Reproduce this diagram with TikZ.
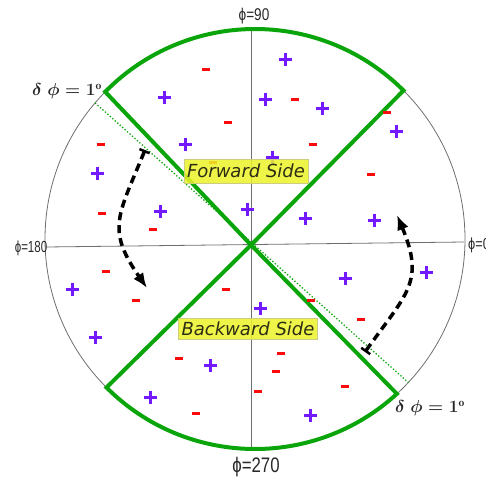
\documentclass[tikz,border=0pt]{standalone}
\usepackage{fontspec}
\usetikzlibrary{arrows.meta,calc}
\newfontfamily\labfont{Liberation Sans}
\newfontfamily\boxfont{DejaVu Sans}
\definecolor{sectgreen}{RGB}{10,165,10}
\definecolor{plusviolet}{RGB}{115,25,255}
\definecolor{minusred}{RGB}{250,10,10}
\definecolor{boxyellow}{RGB}{236,242,40}
\definecolor{boxedge}{RGB}{205,205,130}
\definecolor{axisgray}{RGB}{110,110,110}
\definecolor{boxtext}{RGB}{45,45,20}
\definecolor{labtext}{RGB}{40,40,40}
\begin{document}
\begin{tikzpicture}[x=1pt,y=-1pt,
  pls/.style={draw=plusviolet, line width=3pt},
  mns/.style={draw=minusred, line width=3pt},
  sector/.style={draw=sectgreen, line width=4pt, line join=miter},
  thinline/.style={draw=axisgray, line width=0.8pt},
  dasharr/.style={draw=black, line width=3.5pt, dash pattern=on 8pt off 5pt,
    {Bar[width=11pt,line width=2.5pt]}-{Latex[length=15pt,width=12pt]}},
  sidebox/.style={fill=boxyellow, fill opacity=0.85, text opacity=1, draw=boxedge,
    line width=0.8pt, text=boxtext, inner xsep=3pt, inner ysep=2pt,
    font=\boxfont\itshape\fontsize{18}{20}\selectfont},
  axlab/.style={text=labtext, inner sep=0pt},
  dlab/.style={text=labtext, inner sep=0pt, font=\fontsize{16.5}{18}\selectfont\boldmath},
  plus/.pic={\draw[pls] (-6.5,0) -- (6.5,0) (0,-6.5) -- (0,6.5);},
  minus/.pic={\draw[mns] (-4.2,0) -- (4.2,0);}
]
\useasboundingbox (0,0) rectangle (486,479);
\coordinate (C) at (255,239);
\coordinate (O) at (251,245);
% circle and axes
\draw[thinline] (C) circle[radius=210];
\coordinate (axT) at (251,31);
\coordinate (axB) at (251,447);
\coordinate (axL) at (46,247);
\coordinate (axR) at (464,242);
\draw[thinline] (axT) -- (axB);
\draw[thinline] (axL) -- (axR);
% sectors
\coordinate (UL) at ($(C)+(224.5:210)$);
\coordinate (LR) at ($(C)+(47.5:210)$);
\draw[sector] (O) -- (UL) arc[start angle=224.5, end angle=315, radius=210] -- cycle;
\draw[sector] (O) -- (LR) arc[start angle=47.5, end angle=135, radius=210] -- cycle;
% dotted line
\coordinate (D1) at ($(C)+(220.4:210)$);
\coordinate (D2) at ($(C)+(43.1:210)$);
\draw[sectgreen, line width=1.3pt, dotted] (D1) -- (D2);
% pluses
\foreach \p in {(285,59),(164,97),(265,99),(322,108),(185,144),(396,131),(272,157),
  (97,173),(160,211),(247,209),(305,218),(374,220),(345,278),(426,272),(72,289),
  (260,308),(95,337),(210,365),(150,397),(310,415)}
  \pic at \p {plus};
% minuses
\foreach \p in {(206,69),(228,122),(101,144),(213,162),(102,213),(153,229),(295,99),
  (313,144),(387,112),(371,174),(106,271),(136,300),(226,289),(179,358),(196,413),
  (311,300),(361,319),(281,353),(276,371),(258,391),(345,386)}
  \pic at \p {minus};
% dashed arrows
\coordinate (a1s) at (145,150);
\coordinate (a1e) at (147,288);
\draw[dasharr] (a1s) .. controls (118,216) and (106,229) .. (a1e);
\coordinate (a2s) at (365,352);
\coordinate (a2e) at (397,215);
\draw[dasharr] (a2s) .. controls (407,293) and (425,282) .. (a2e);
% side boxes
\node[sidebox, minimum height=24pt] (fwd) at (246,171) {Forward Side};
\node[sidebox, minimum height=21pt] (bwd) at (248,328.5) {Backward Side};
% axis labels
\node[axlab, font=\labfont\fontsize{17}{19}\selectfont] (l90) at (254,16) {\scalebox{0.8}[1]{ϕ=90}};
\node[axlab, font=\labfont\fontsize{16}{18}\selectfont] (l180) at (31,248) {\scalebox{0.72}[1]{ϕ=180}};
\node[axlab, font=\labfont\fontsize{16}{18}\selectfont, anchor=west] (l0) at (468,245) {\scalebox{0.8}[1]{ϕ=0}};
\node[axlab, font=\labfont\fontsize{21}{23}\selectfont] (l270) at (256,467) {\scalebox{0.8}[1]{ϕ=270}};
% delta phi labels
\node[dlab] (d1) at (67,91) {$\delta\;\phi=1^{\mathrm{o}}$};
\node[dlab] (d2) at (430,408) {$\delta\;\phi=1^{\mathrm{o}}$};
\end{tikzpicture}
\end{document}
